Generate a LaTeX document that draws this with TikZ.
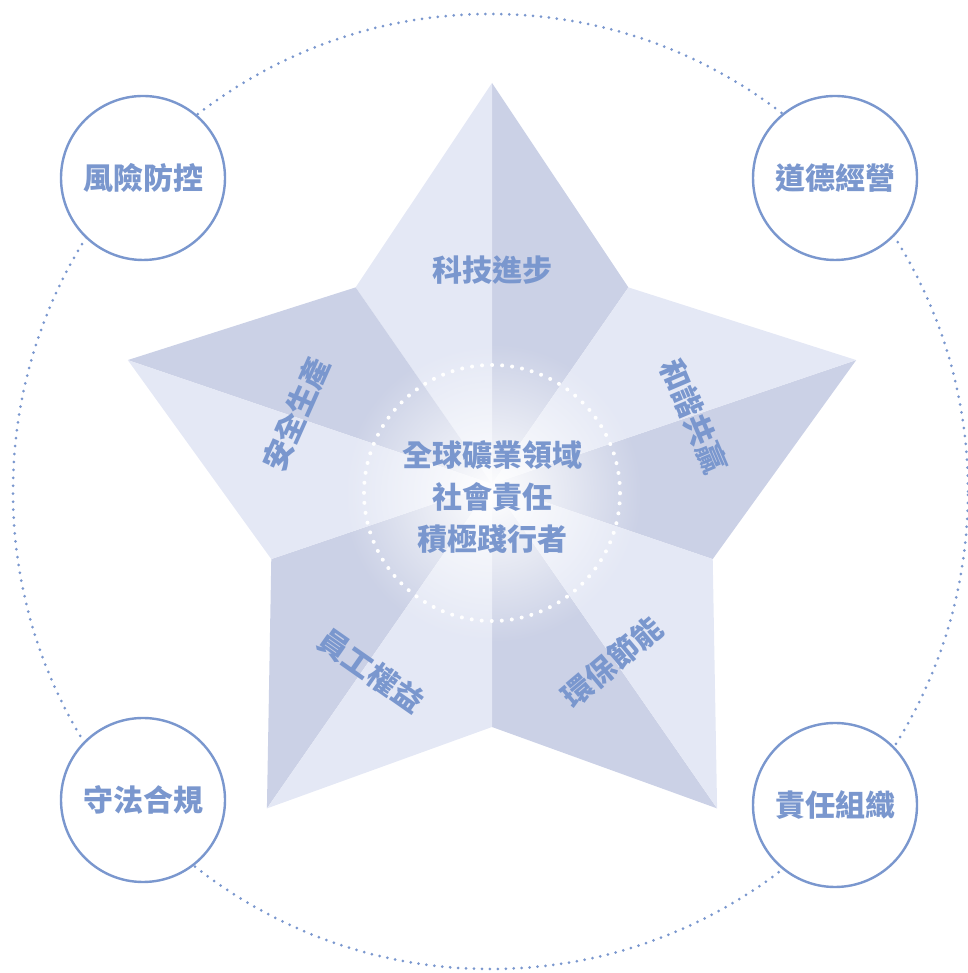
\documentclass[tikz,border=0pt]{standalone}
\usepackage{fontspec}
\newfontfamily\cjk{Noto Sans CJK TC}
\usetikzlibrary{positioning,fadings}
\definecolor{starlight}{RGB}{228,232,245}
\definecolor{stardark}{RGB}{203,209,230}
\definecolor{capblue}{RGB}{122,151,206}
\tikzfading[name=glowfade, inner color=transparent!0, outer color=transparent!100]

\begin{document}
\begin{tikzpicture}[x=1pt,y=1pt,
    tag/.style={text=capblue,font=\cjk\bfseries\fontsize{30}{42}\selectfont},
    ring/.style={circle,draw=capblue,line width=2.4pt,fill=white,minimum size=164pt,inner sep=0pt}]
    \useasboundingbox (0,0) rectangle (967,973);
    % outer dotted ring
    \draw[capblue,line width=3pt,line cap=round,dash pattern=on 0pt off 7.95pt] (490.5,481.5) circle (477.5);
    % star faces
    \begin{scope}[shift={(492,489)},xscale=0.955]
        \foreach \a in {90,18,-54,-126,-198}{
            \fill[stardark] (0,0)--(\a:401)--(\a-36:243)--cycle;
            \fill[starlight] (0,0)--(\a+36:243)--(\a:401)--cycle;
        }
    \end{scope}
    % centre glow
    \fill[white,path fading=glowfade] (492,480) circle (150);
    \draw[white,line width=4pt,line cap=round,dash pattern=on 0pt off 10.05pt] (492,480) circle (128);
    \node[tag,align=center] (core) at (492,476) {全球礦業領域\\社會責任\\積極踐行者};
    % arm labels
    \node[tag] (tech) at (492,703) {科技進步};
    \node[tag,rotate=-67] (harmony) at (694,557) {和諧共贏};
    \node[tag,rotate=40] (green) at (612,311) {環保節能};
    \node[tag,rotate=-35] (staff) at (371,302) {員工權益};
    \node[tag,rotate=66] (safety) at (296,559) {安全生產};
    % outer rings
    \node[ring,tag] (risk) at (143,795) {風險防控};
    \node[ring,tag] (ethics) at (835,795) {道德經營};
    \node[ring,tag] (law) at (143,173) {守法合規};
    \node[ring,tag] (duty) at (835,168) {責任組織};
\end{tikzpicture}
\end{document}
